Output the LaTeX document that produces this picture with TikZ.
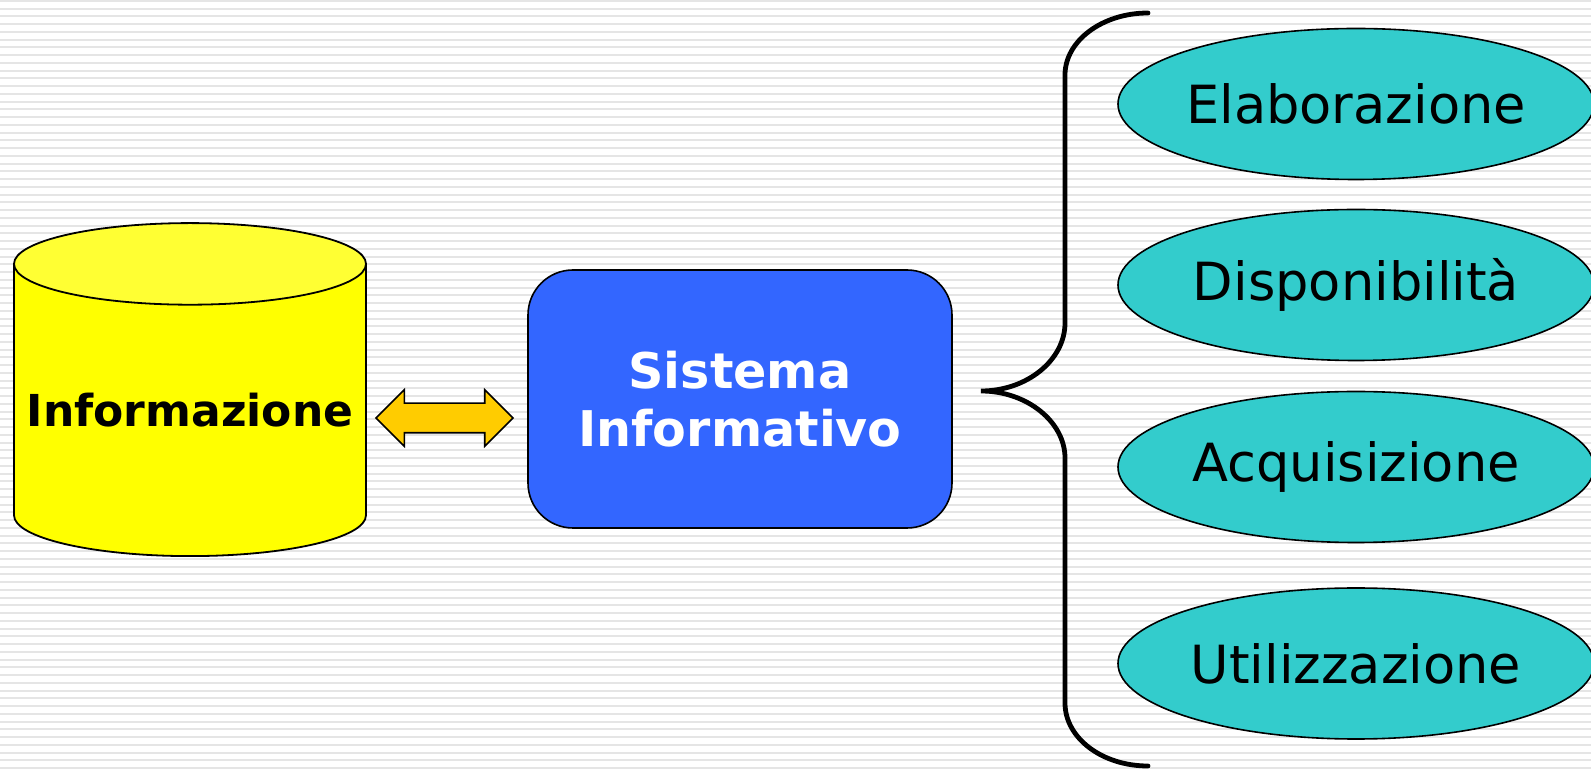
\documentclass[tikz,border=0pt]{standalone}
\usepackage{fontspec}
\setmainfont{DejaVu Sans}
\usetikzlibrary{shapes.geometric,shapes.arrows,calc}
\definecolor{cyl-body}{HTML}{FFFF00}
\definecolor{cyl-top}{HTML}{FFFF33}
\definecolor{link-gold}{HTML}{FFCC00}
\definecolor{sys-blue}{HTML}{3366FF}
\definecolor{task-teal}{HTML}{33CCCC}
\tikzset{
    bg-stripe/.style = {draw=gray!20, line width=1pt},
    info-cylinder/.style = {cylinder, shape border rotate=90, shape aspect=0.25, draw, line width=0.9pt,
        cylinder uses custom fill, cylinder body fill=cyl-body, cylinder end fill=cyl-top,
        minimum width=176pt, minimum height=166.5pt, inner sep=0pt, font=\fontsize{22}{27}\selectfont\bfseries},
    link-arrow/.style = {double arrow, draw, line width=0.8pt, fill=link-gold, inner xsep=0pt, inner ysep=7pt,
        minimum height=68.5pt, minimum width=27.5pt, double arrow head extend=6.75pt, double arrow tip angle=90},
    system-box/.style = {draw, line width=0.8pt, fill=sys-blue, rectangle, rounded corners=22.5pt,
        minimum width=212pt, minimum height=129pt, text=white, align=center,
        font=\fontsize{24.6}{29}\selectfont\bfseries},
    task-ellipse/.style = {ellipse, draw, line width=0.8pt, fill=task-teal, inner sep=-12pt,
        minimum width=238pt, minimum height=75.5pt, font=\fontsize{26.3}{31}\selectfont},
    brace-line/.style = {draw, line width=2.4pt, line cap=round},
}

\begin{document}
\begin{tikzpicture}[x=0.5pt, y=-0.5pt]
\useasboundingbox (0,0) rectangle (1591,769);
\fill[white] (0,0) rectangle (1591,769);
% striped background
\foreach \k in {0,...,99}
    \draw[bg-stripe] (0,{0.8+7.75*\k}) -- (1591,{0.8+7.75*\k});

\node[info-cylinder, anchor=south] (info) at (190,557) {Informazione};
\node[system-box] (sys) at (740,399) {Sistema\\Informativo};
\node[link-arrow] (link) at (444.5,418) {};

\node[task-ellipse] (elab) at (1356,104) {Elaborazione};
\node[task-ellipse] (disp) at (1356,285) {Disponibilità};
\node[task-ellipse] (acq) at (1356,467) {Acquisizione};
\node[task-ellipse] (util) at (1356,663.5) {Utilizzazione};

% curly brace
\coordinate (brace-top) at (1148,13);
\coordinate (brace-tip) at (981,391);
\coordinate (brace-bot) at (1148,766);
\draw[brace-line] (brace-top) .. controls (1102,13) and (1065,41) .. (1065,75)
    -- (1065,323) .. controls (1065,360) and (1027,391) .. (brace-tip)
    .. controls (1027,391) and (1065,422) .. (1065,458)
    -- (1065,703) .. controls (1065,738) and (1102,766) .. (brace-bot);
\end{tikzpicture}
\end{document}
